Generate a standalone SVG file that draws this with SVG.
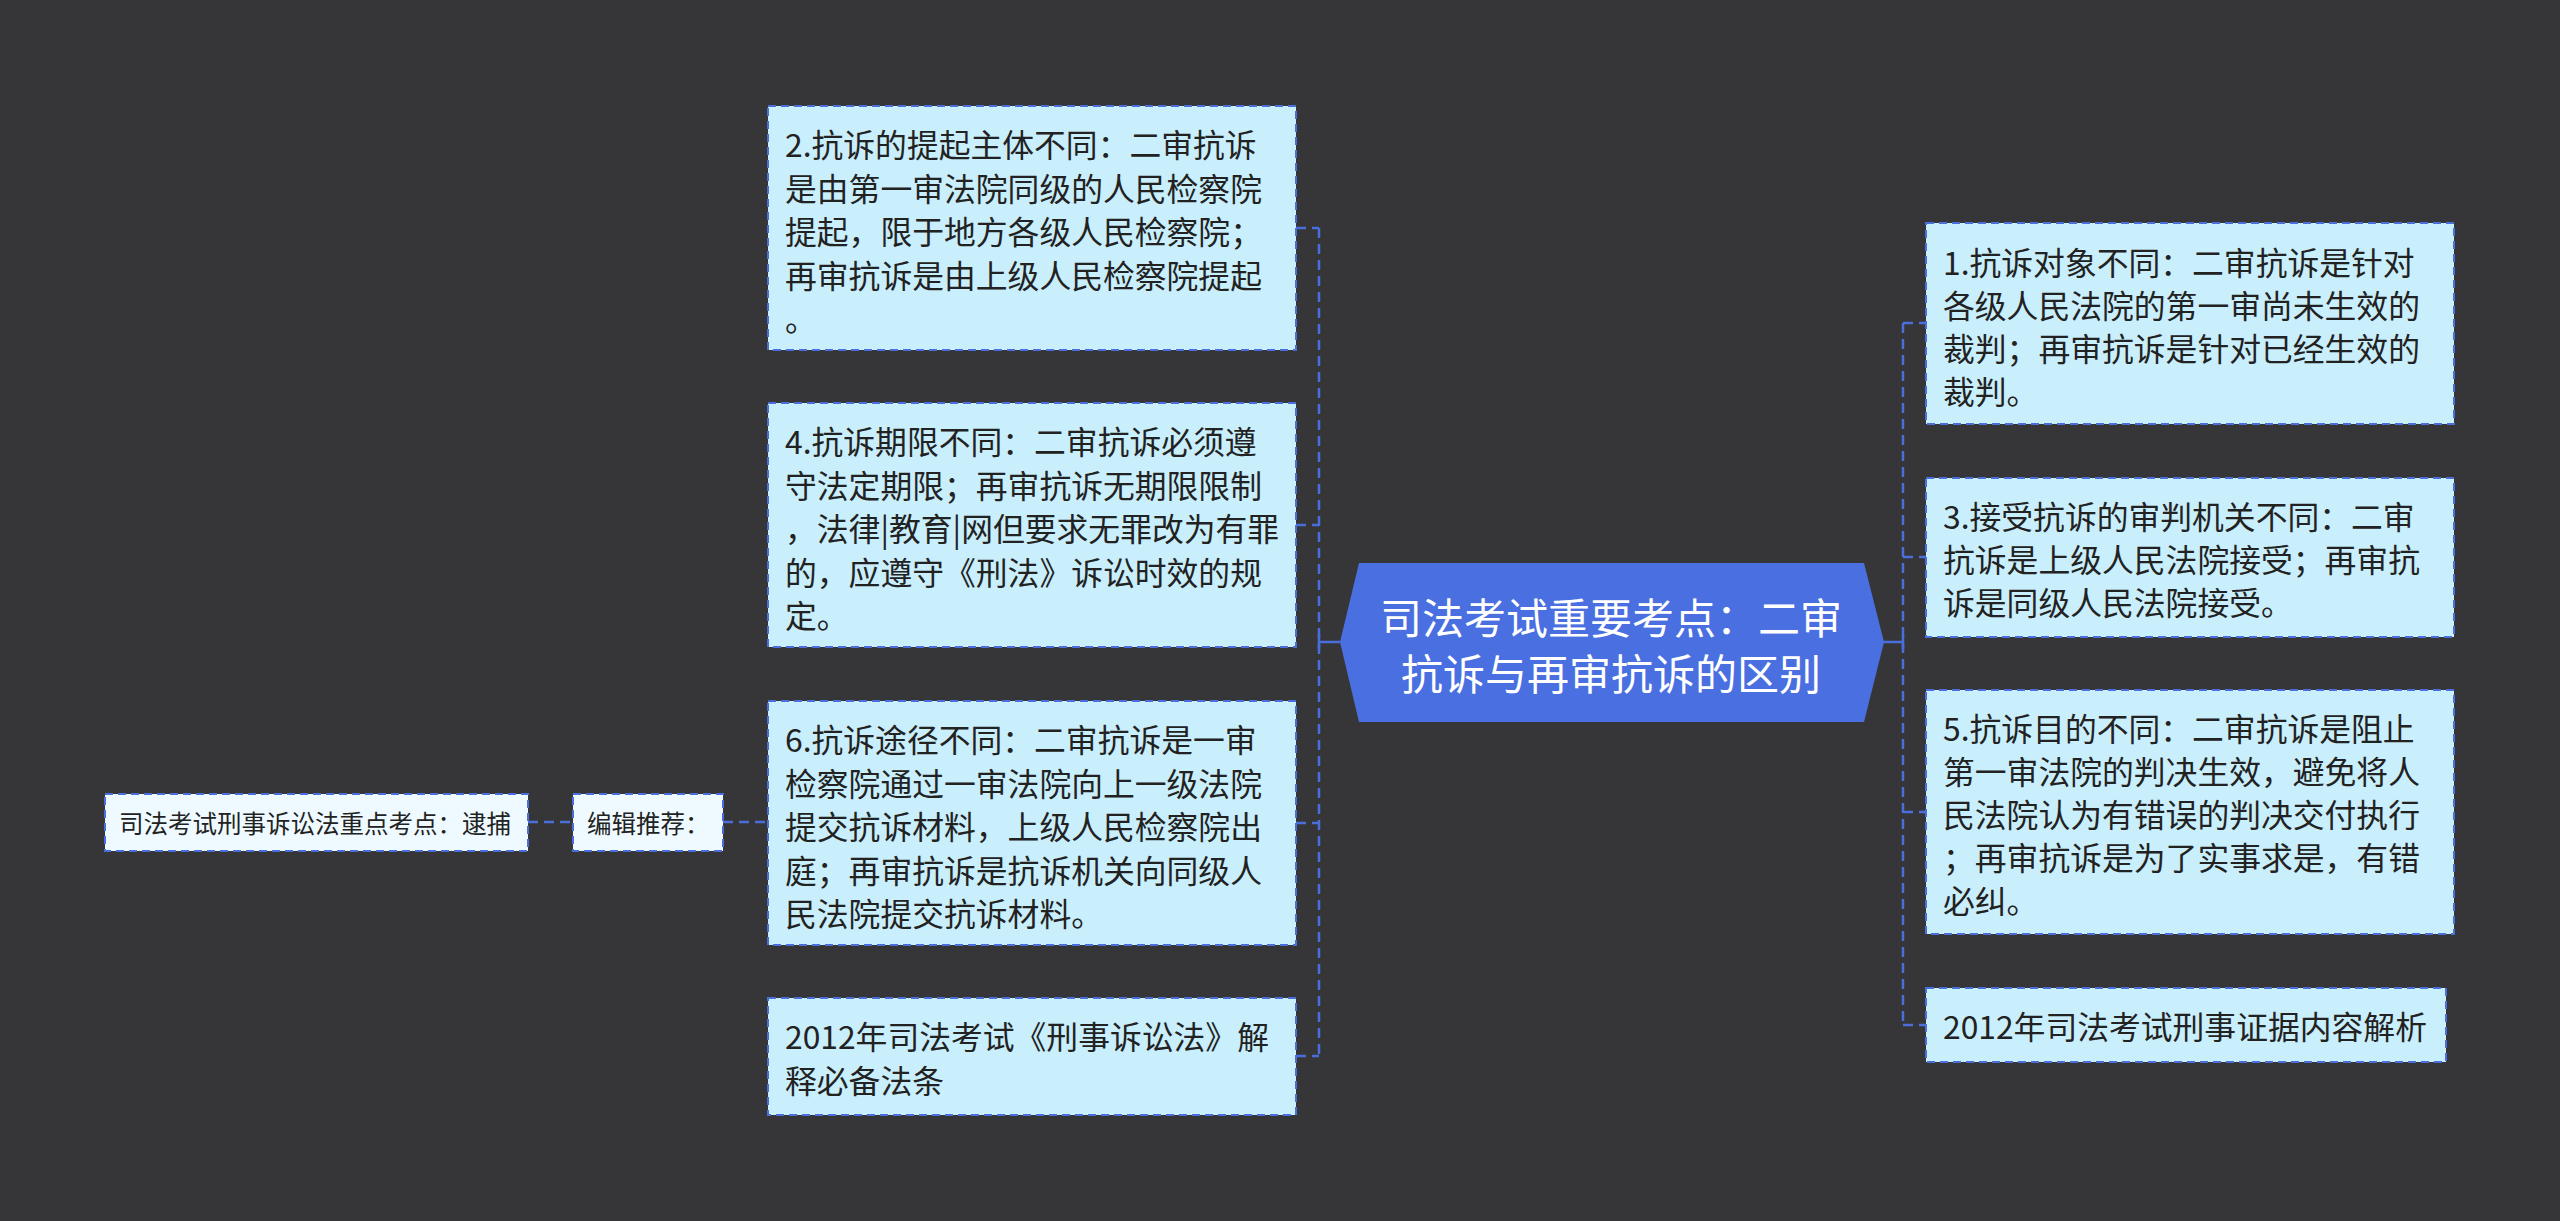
<svg xmlns="http://www.w3.org/2000/svg" width="2560" height="1221" viewBox="0 0 2560 1221">
<style>
.bg{fill:#363537}
.box{fill:#c9eefc;stroke:#4a6fdc;stroke-width:2;stroke-dasharray:8 5}
.lbox{fill:#eefaff;stroke:#4a6fdc;stroke-width:2;stroke-dasharray:8 5}
.t{font-family:"Noto Sans CJK SC","Microsoft YaHei",sans-serif;font-size:31.8px;fill:#222;dominant-baseline:central}
.ts{font-family:"Noto Sans CJK SC","Microsoft YaHei",sans-serif;font-size:24.5px;fill:#222;dominant-baseline:central}
.tc{font-family:"Noto Sans CJK SC","Microsoft YaHei",sans-serif;font-size:42px;fill:#ffffff;dominant-baseline:central;text-anchor:middle}
.c{fill:none;stroke:#4a6fdc;stroke-width:2.5;stroke-dasharray:10 6}
.s{fill:none;stroke:#4a6fdc;stroke-width:2.5}
</style>
<rect class="bg" x="0" y="0" width="2560" height="1221"/>
<g id="connectors">
<path class="c" d="M1319 228 V1056"/>
<path class="c" d="M1296 228 H1319 M1296 525 H1319 M1296 823 H1319 M1296 1056 H1319"/>
<path class="s" d="M1319 642 H1340 M1319 635 V649"/>
<path class="c" d="M1903 323 V1025"/>
<path class="c" d="M1903 323 H1926 M1903 557 H1926 M1903 812 H1926 M1903 1025 H1926"/>
<path class="s" d="M1883 642 H1903 M1903 635 V649"/>
<path class="c" d="M723 822 H768"/>
<path class="c" d="M528 822 H573"/>
</g>
<g id="center">
<polygon points="1340,642 1359,563 1864,563 1884,642 1864,722 1359,722" fill="#4a6fe0"/>
<text class="tc" x="1611" y="615">司法考试重要考点：二审</text>
<text class="tc" x="1611" y="671">抗诉与再审抗诉的区别</text>
</g>
<g id="n2">
<rect class="box" x="768" y="106" width="528" height="244"/>
<text class="t" x="785" y="143">2.抗诉的提起主体不同：二审抗诉</text>
<text class="t" x="785" y="186.5">是由第一审法院同级的人民检察院</text>
<text class="t" x="785" y="230">提起，限于地方各级人民检察院；</text>
<text class="t" x="785" y="273.5">再审抗诉是由上级人民检察院提起</text>
<text class="t" x="785" y="317">。</text>
</g>
<g id="n4">
<rect class="box" x="768" y="403" width="528" height="244"/>
<text class="t" x="785" y="440">4.抗诉期限不同：二审抗诉必须遵</text>
<text class="t" x="785" y="483.5">守法定期限；再审抗诉无期限限制</text>
<text class="t" x="785" y="527">，法律|教育|网但要求无罪改为有罪</text>
<text class="t" x="785" y="570.5">的，应遵守《刑法》诉讼时效的规</text>
<text class="t" x="785" y="614">定。</text>
</g>
<g id="n6">
<rect class="box" x="768" y="701" width="528" height="244"/>
<text class="t" x="785" y="738">6.抗诉途径不同：二审抗诉是一审</text>
<text class="t" x="785" y="781.5">检察院通过一审法院向上一级法院</text>
<text class="t" x="785" y="825">提交抗诉材料，上级人民检察院出</text>
<text class="t" x="785" y="868.5">庭；再审抗诉是抗诉机关向同级人</text>
<text class="t" x="785" y="912">民法院提交抗诉材料。</text>
</g>
<g id="n2012l">
<rect class="box" x="768" y="998" width="528" height="117"/>
<text class="t" x="785" y="1035">2012年司法考试《刑事诉讼法》解</text>
<text class="t" x="785" y="1078.5">释必备法条</text>
</g>
<g id="nrec">
<rect class="lbox" x="573" y="794" width="150" height="57"/>
<text class="ts" x="587" y="822">编辑推荐：</text>
</g>
<g id="narrest">
<rect class="lbox" x="105" y="794" width="423" height="57"/>
<text class="ts" x="119" y="822">司法考试刑事诉讼法重点考点：逮捕</text>
</g>
<g id="n1">
<rect class="box" x="1926" y="223" width="528" height="201"/>
<text class="t" x="1943" y="261">1.抗诉对象不同：二审抗诉是针对</text>
<text class="t" x="1943" y="304">各级人民法院的第一审尚未生效的</text>
<text class="t" x="1943" y="347">裁判；再审抗诉是针对已经生效的</text>
<text class="t" x="1943" y="390">裁判。</text>
</g>
<g id="n3">
<rect class="box" x="1926" y="478" width="528" height="159"/>
<text class="t" x="1943" y="515">3.接受抗诉的审判机关不同：二审</text>
<text class="t" x="1943" y="558">抗诉是上级人民法院接受；再审抗</text>
<text class="t" x="1943" y="601">诉是同级人民法院接受。</text>
</g>
<g id="n5">
<rect class="box" x="1926" y="690" width="528" height="244"/>
<text class="t" x="1943" y="727">5.抗诉目的不同：二审抗诉是阻止</text>
<text class="t" x="1943" y="770">第一审法院的判决生效，避免将人</text>
<text class="t" x="1943" y="813">民法院认为有错误的判决交付执行</text>
<text class="t" x="1943" y="856">；再审抗诉是为了实事求是，有错</text>
<text class="t" x="1943" y="899">必纠。</text>
</g>
<g id="n2012r">
<rect class="box" x="1926" y="988" width="520" height="74"/>
<text class="t" x="1943" y="1025">2012年司法考试刑事证据内容解析</text>
</g>
</svg>
